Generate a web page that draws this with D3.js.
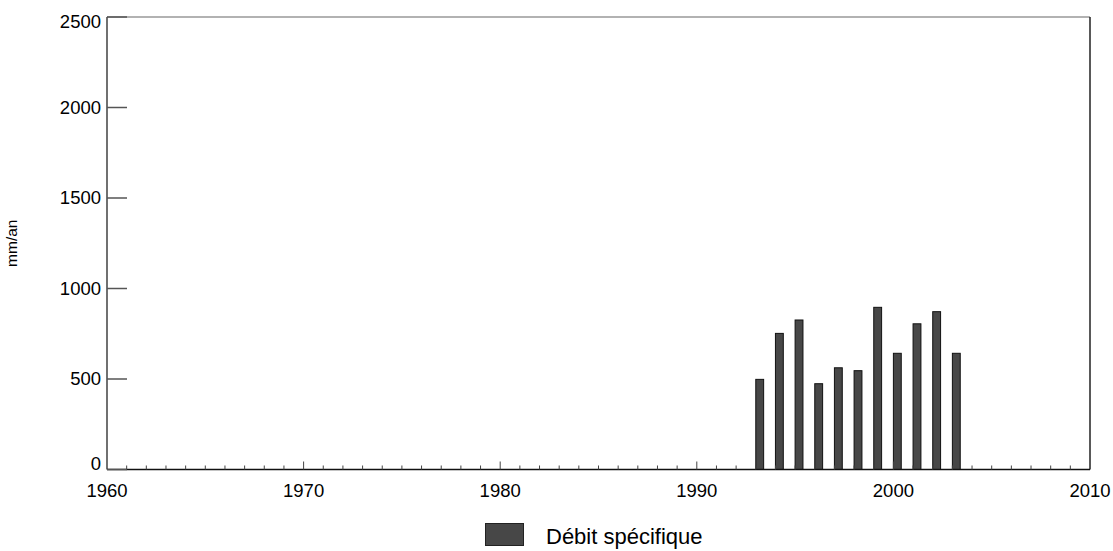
<!DOCTYPE html>
<html>
<head>
<meta charset="utf-8">
<script src="https://cdn.jsdelivr.net/npm/d3@7"></script>
<style>
  html, body { margin: 0; padding: 0; background: #fff; }
  svg { display: block; font-family: "Liberation Sans", Arial, sans-serif; }
</style>
</head>
<body>
<svg id="chart" width="1113" height="551"></svg>
<script>
const years = [1993, 1994, 1995, 1996, 1997, 1998, 1999, 2000, 2001, 2002, 2003];
const values = [498, 752, 826, 474, 562, 546, 896, 642, 805, 872, 642];
const xTicks = [1960, 1970, 1980, 1990, 2000, 2010];
const yTicks = [0, 500, 1000, 1500, 2000, 2500];
const seriesName = "Débit spécifique";
const yTitle = "mm/an";

(function () {
const svg = d3.select("#chart");
const pL = 107, pR = 1090, pT = 17, pB = 469.5;

const x = d3.scaleLinear().domain([1960, 2010]).range([pL, pR]);
const y = d3.scaleLinear().domain([0, 2500]).range([pB, pT]);

// bars
svg.append("g").selectAll("rect").data(years).join("rect")
  .attr("x", (d) => x(d))
  .attr("y", (d, i) => y(values[i]))
  .attr("width", (d) => x(d + 0.4) - x(d))
  .attr("height", (d, i) => y(0) - y(values[i]))
  .attr("fill", "#474747")
  .attr("stroke", "#111")
  .attr("stroke-width", 1);

// frame
svg.append("line").attr("x1", pL).attr("x2", pR).attr("y1", pT).attr("y2", pT)
  .attr("stroke", "#999").attr("stroke-width", 1.5);
svg.append("line").attr("x1", pR).attr("x2", pR).attr("y1", pT).attr("y2", pB)
  .attr("stroke", "#222").attr("stroke-width", 1.5);
svg.append("line").attr("x1", pL).attr("x2", pL).attr("y1", pT).attr("y2", pB)
  .attr("stroke", "#111").attr("stroke-width", 1.2);
svg.append("line").attr("x1", pL).attr("x2", pR).attr("y1", pB).attr("y2", pB)
  .attr("stroke", "#111").attr("stroke-width", 1.5);

// y ticks (inside) and labels
const yAxis = svg.append("g");
yAxis.selectAll("line").data(yTicks).join("line")
  .attr("x1", pL).attr("x2", pL + 20)
  .attr("y1", (d) => y(d)).attr("y2", (d) => y(d))
  .attr("stroke", "#555").attr("stroke-width", 1.5);
yAxis.selectAll("text").data(yTicks).join("text")
  .attr("x", pL - 6)
  .attr("y", (d) => Math.min(Math.max(y(d), pT + 4.5), pB - 5.5))
  .attr("dy", "0.35em")
  .attr("text-anchor", "end")
  .attr("font-size", 18.5)
  .attr("fill", "#000")
  .text((d) => d);

// x ticks
const minor = d3.range(1961, 2010);
svg.append("g").selectAll("line").data(minor).join("line")
  .attr("x1", (d) => x(d)).attr("x2", (d) => x(d))
  .attr("y1", pB).attr("y2", (d) => pB - (d % 10 === 0 ? 8 : 4))
  .attr("stroke", "#444").attr("stroke-width", 1);
svg.append("g").selectAll("text").data(xTicks).join("text")
  .attr("x", (d) => x(d))
  .attr("y", 497)
  .attr("text-anchor", "middle")
  .attr("font-size", 18.5)
  .attr("fill", "#000")
  .text((d) => d);

// y title
svg.append("text")
  .attr("transform", `translate(17, ${(pT + pB) / 2}) rotate(-90)`)
  .attr("text-anchor", "middle")
  .attr("font-size", 15.5)
  .attr("fill", "#000")
  .text(yTitle);

// legend
svg.append("rect").attr("x", 485.5).attr("y", 523.5).attr("width", 38).attr("height", 22)
  .attr("fill", "#474747").attr("stroke", "#222").attr("stroke-width", 1);
svg.append("text").attr("x", 546).attr("y", 544)
  .attr("font-size", 22).attr("fill", "#000")
  .text(seriesName);
})();
</script>
</body>
</html>
